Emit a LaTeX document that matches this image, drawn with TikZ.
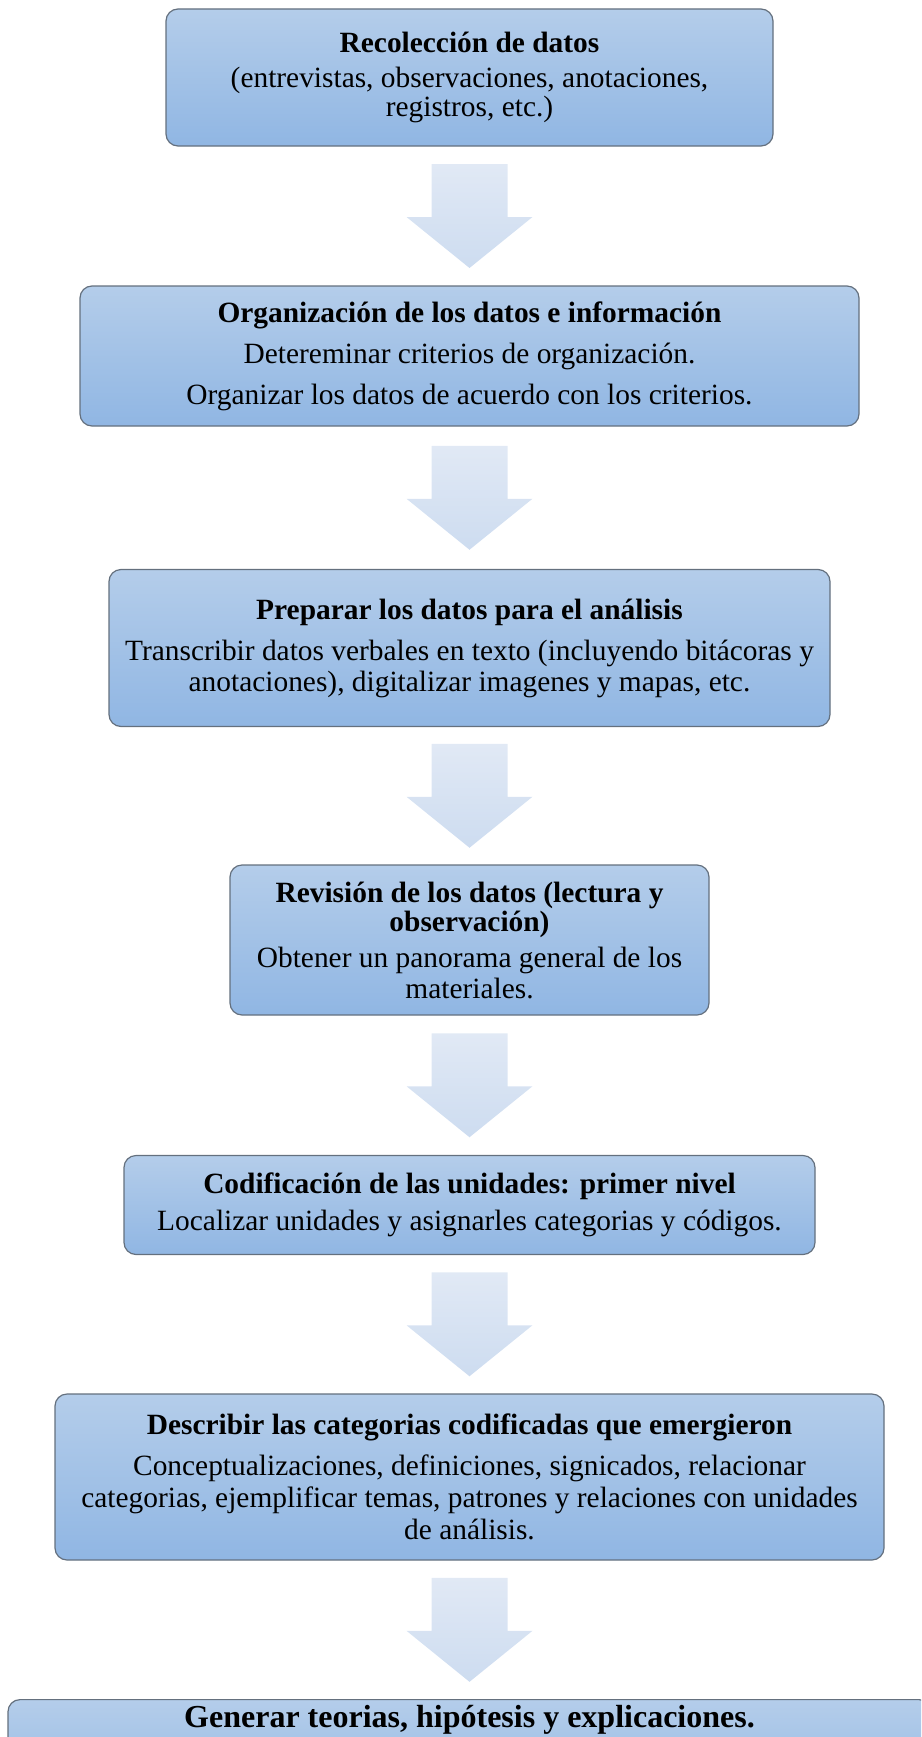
\documentclass[tikz,border=0pt]{standalone}
\usepackage{fontspec}
\setmainfont{Liberation Serif}
\usetikzlibrary{calc}

\definecolor{boxtop}{RGB}{180,205,234}
\definecolor{boxbot}{RGB}{144,182,227}
\definecolor{boxline}{RGB}{100,112,126}
\definecolor{arrtop}{RGB}{225,233,245}
\definecolor{arrbot}{RGB}{205,220,240}

\tikzset{
  stagebox/.style={draw=boxline, line width=1.2pt, rounded corners=12pt,
    top color=boxtop, bottom color=boxbot, inner sep=0pt, align=center,
    text=black},
  body/.style={font=\fontsize{29.4}{31}\selectfont},
  flowarrow/.style={top color=arrtop, bottom color=arrbot, draw=none},
}

% stage heading
\newcommand{\stagetitle}[1]{{\fontsize{29.4}{32}\selectfont\bfseries #1}}

% block arrow centred between two stages
\newcommand{\blockarrow}[2]{%
  \coordinate (m#1#2) at ($(#1.south)!0.5!(#2.north)$);
  \shade[flowarrow] ($(m#1#2)+(-38,-52)$) -- ($(m#1#2)+(38,-52)$)
    -- ($(m#1#2)+(38,1)$) -- ($(m#1#2)+(63,1)$) -- ($(m#1#2)+(0,52)$)
    -- ($(m#1#2)+(-63,1)$) -- ($(m#1#2)+(-38,1)$) -- cycle;}

\begin{document}
\begin{tikzpicture}[x=1pt, y=-1pt]
\useasboundingbox (0,0) rectangle (921,1737);
\clip (0,0) rectangle (921,1737);

\node[stagebox, minimum width=607pt, minimum height=137pt,
      font=\fontsize{29.4}{29}\selectfont] (b1) at (469.5,77.5)
  {\stagetitle{Recolección de datos}\\[6pt]
   (entrevistas, observaciones, anotaciones,\\ registros, etc.)};

\node[stagebox, body, minimum width=779pt, minimum height=140pt] (b2) at (469.5,356)
  {\stagetitle{Organización de los datos e información}\\[10pt]
   Detereminar criterios de organización.\\[10pt]
   Organizar los datos de acuerdo con los criterios.};

\node[stagebox, body, minimum width=721pt, minimum height=157pt] (b3) at (469.5,648)
  {\stagetitle{Preparar los datos para el análisis}\\[10pt]
   Transcribir datos verbales en texto (incluyendo bitácoras y\\
   anotaciones), digitalizar imagenes y mapas, etc.};

\node[stagebox, body, minimum width=479pt, minimum height=150pt] (b4) at (469.5,940)
  {\stagetitle{Revisión de los datos (lectura y}\\[-2pt]
   \stagetitle{observación)}\\[5pt]
   Obtener un panorama general de los\\ materiales.};

\node[stagebox, body, minimum width=691pt, minimum height=99pt] (b5) at (469.5,1205)
  {\stagetitle{Codificación de las unidades: primer nivel}\\[6pt]
   Localizar unidades y asignarles categorias y códigos.};

\node[stagebox, body, minimum width=829pt, minimum height=166pt] (b6) at (469.5,1477)
  {\stagetitle{Describir las categorias codificadas que emergieron}\\[10pt]
   Conceptualizaciones, definiciones, signicados, relacionar\\[1pt]
   categorias, ejemplificar temas, patrones y relaciones con unidades\\[1pt]
   de análisis.};

\node[stagebox, minimum width=923pt, minimum height=120pt, anchor=north] (b7) at (469.5,1699) {};
\node[font=\fontsize{32}{34}\selectfont\bfseries, inner sep=0pt] (t7) at ($(b7.north)+(0,21)$)
  {Generar teorias, hipótesis y explicaciones.};

\blockarrow{b1}{b2}
\blockarrow{b2}{b3}
\blockarrow{b3}{b4}
\blockarrow{b4}{b5}
\blockarrow{b5}{b6}
\blockarrow{b6}{b7}
\end{tikzpicture}
\end{document}
